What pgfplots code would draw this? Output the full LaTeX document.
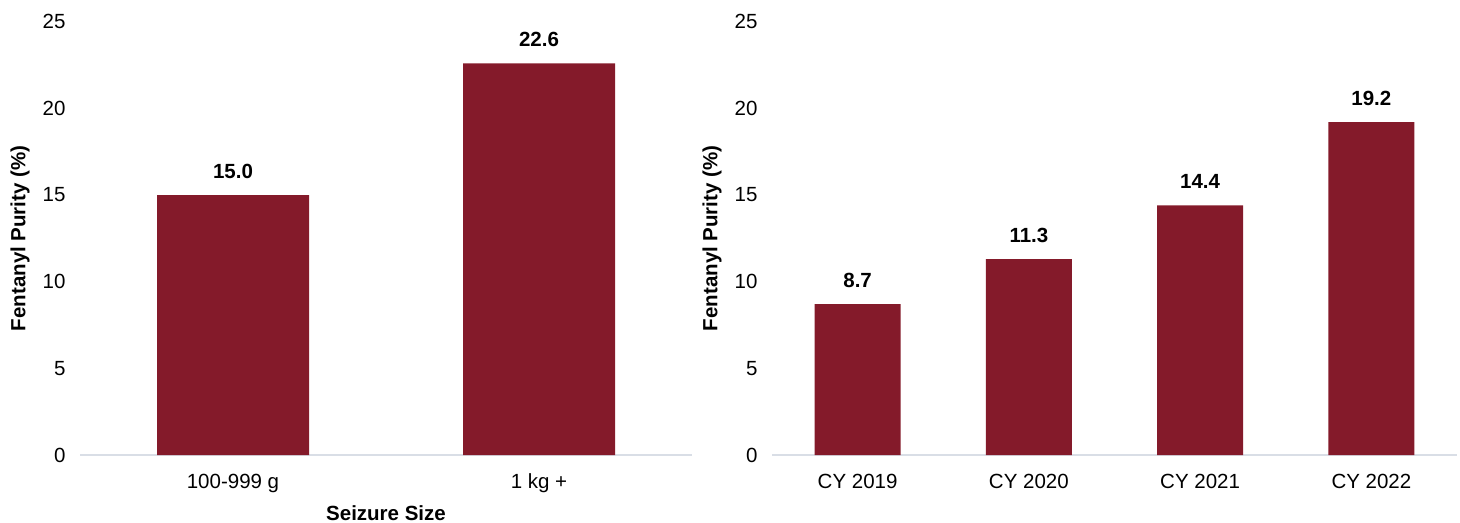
\documentclass[border=0pt]{standalone}
\usepackage{fontspec}
\setmainfont{Liberation Sans}
\usepackage{pgfplots}
\pgfplotsset{compat=1.18}
\definecolor{barred}{HTML}{841A2A}
\definecolor{baseline}{HTML}{D9DEE6}
\newcommand{\fs}{\fontsize{20.5bp}{24bp}\selectfont}
\pgfplotsset{
  purity/.style={
    scale only axis,
    anchor=south west,
    height=433.3bp,
    ymin=0, ymax=25,
    ytick={0,5,...,25},
    xtick=data,
    axis lines*=left,
    x axis line style={draw=baseline, line width=1.5bp},
    y axis line style={draw=none},
    tick style={draw=none},
    /pgf/number format/assume math mode=true,
    ticklabel style={font=\fs},
    yticklabel style={xshift=-11bp},
    xticklabel style={yshift=-11bp},
    ylabel={\bfseries Fentanyl Purity (\%)},
    ylabel style={font=\fs, anchor=center},
    xlabel style={font=\fs},
    ybar,
    bar shift=0pt,
    nodes near coords,
    nodes near coords style={font=\fs\bfseries, anchor=south, inner sep=0pt, yshift=16.5bp,
      /pgf/number format/.cd, fixed, fixed zerofill, precision=1, assume math mode=true},
    clip=false,
  }
}
\begin{document}
\begin{tikzpicture}
\useasboundingbox (0,0) rectangle (1460bp,523bp);
\begin{axis}[purity,
  at={(80bp,68bp)},
  width=612bp,
  xmin=-0.5, xmax=1.5,
  xticklabels={100-999 g, 1 kg +},
  bar width=152bp,
  xlabel={\bfseries Seizure Size},
  xlabel style={at={(axis description cs:0.5,0)}, anchor=base, yshift=-65bp},
  ylabel style={at={(axis description cs:-0.098,0.5)}},
]
\addplot[fill=barred, draw=none] coordinates {(0,15.0) (1,22.6)};
\end{axis}
\begin{axis}[purity,
  at={(772bp,68bp)},
  width=685bp,
  xmin=-0.5, xmax=3.5,
  xticklabels={CY 2019, CY 2020, CY 2021, CY 2022},
  bar width=86bp,
  ylabel style={at={(axis description cs:-0.0876,0.5)}},
]
\addplot[fill=barred, draw=none] coordinates {(0,8.7) (1,11.3) (2,14.4) (3,19.2)};
\end{axis}
\end{tikzpicture}
\end{document}
